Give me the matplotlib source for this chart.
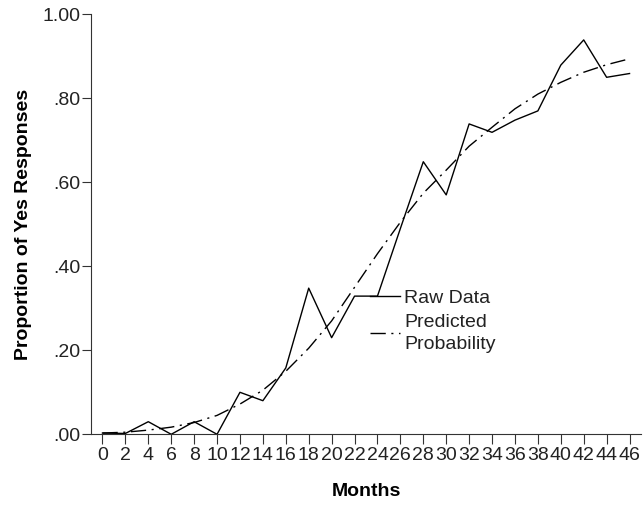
import matplotlib
matplotlib.use("Agg")
import matplotlib.pyplot as plt
from matplotlib.ticker import FixedLocator, FuncFormatter

plt.rcParams['font.family'] = ['Liberation Sans', 'DejaVu Sans']

months = list(range(0, 47, 2))
raw_data = [0.003, 0.002, 0.030, 0.000, 0.030, 0.000, 0.100, 0.080, 0.158, 0.348,
            0.230, 0.329, 0.329, 0.490, 0.649, 0.570, 0.739, 0.719, 0.748, 0.770,
            0.879, 0.939, 0.850, 0.859]
predicted = [0.003, 0.005, 0.010, 0.017, 0.028, 0.045, 0.072, 0.105, 0.150, 0.205,
             0.270, 0.350, 0.430, 0.505, 0.574, 0.629, 0.686, 0.731, 0.775, 0.810,
             0.838, 0.862, 0.880, 0.894]
y_ticks = [0.0, 0.2, 0.4, 0.6, 0.8, 1.0]

fig = plt.figure(figsize=(6.44, 5.05), dpi=100)
ax = fig.add_axes([91/644, 1 - 434.3/505, 550/644, 420/505])

ax.plot(months, raw_data, color='black', lw=1.0, label='Raw Data')
ax.plot(months, predicted, color='black', lw=1.0, dashes=(11, 4, 1.5, 4),
        label='Predicted\nProbability')

ax.set_xlim(-1, 47)
ax.set_ylim(0, 1)
ax.xaxis.set_major_locator(FixedLocator(months))
ax.yaxis.set_major_locator(FixedLocator(y_ticks))

def yfmt(v, pos):
    s = f"{v:.2f}"
    return s[1:] if s.startswith("0") else s
ax.yaxis.set_major_formatter(FuncFormatter(yfmt))
ax.xaxis.set_major_formatter(FuncFormatter(lambda v, p: f"{int(round(v))}"))

for s in ['top', 'right']:
    ax.spines[s].set_visible(False)
for s in ['left', 'bottom']:
    ax.spines[s].set_linewidth(0.8)
    ax.spines[s].set_color('#333333')

ax.tick_params(axis='x', direction='out', length=7, width=0.8, labelsize=14,
               pad=2.5, color='#333333', labelcolor='#222222')
ax.tick_params(axis='y', direction='out', length=6.8, width=0.8, labelsize=14,
               pad=1, color='#333333', labelcolor='#222222')

ax.set_xlabel('Months', fontsize=14, fontweight='bold')
ax.set_ylabel('Proportion of Yes Responses', fontsize=14, fontweight='bold')
ax.xaxis.set_label_coords(0.5, -0.115)
ax.yaxis.set_label_coords(-0.108, 0.5)

leg = ax.legend(loc='upper left', bbox_to_anchor=(370/644, 1 - 289/505),
                bbox_transform=fig.transFigure, frameon=False, fontsize=14,
                handlelength=1.55, handletextpad=0.2, borderpad=0,
                borderaxespad=0, labelspacing=0.4)
for t in leg.get_texts():
    t.set_linespacing(1.35)
    t.set_color('#222222')

fig.savefig('out.png', dpi=100)
